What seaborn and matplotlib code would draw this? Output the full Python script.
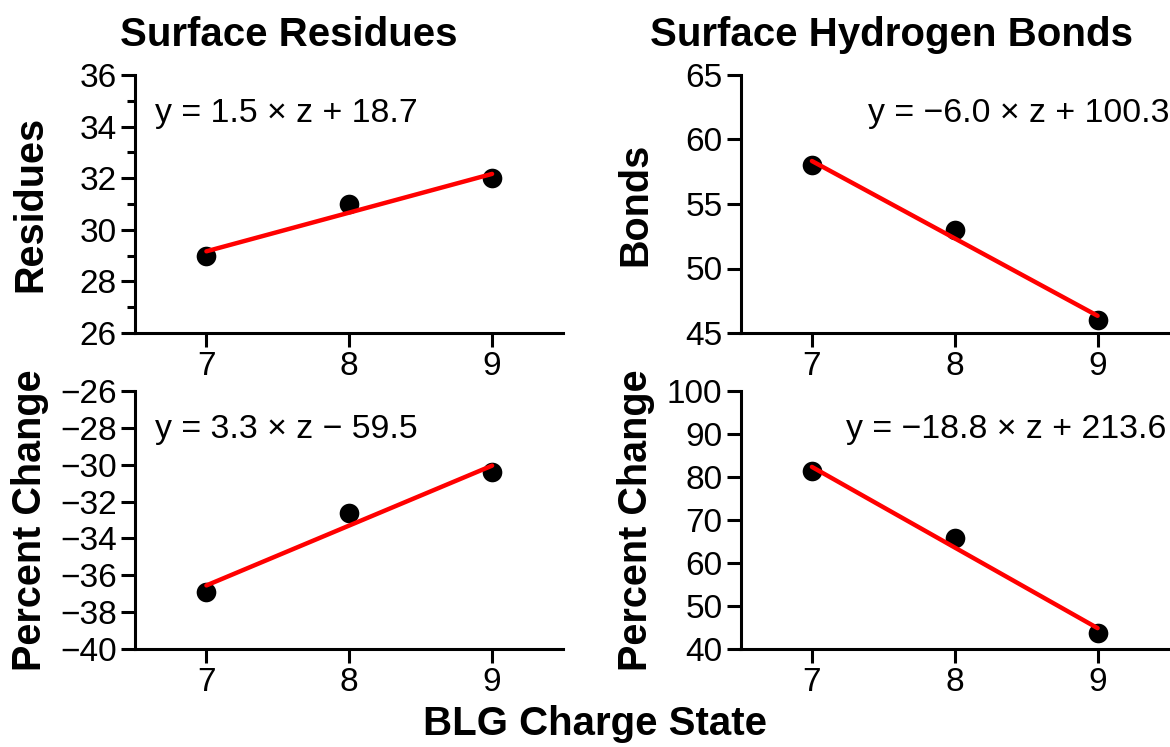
import numpy as np
import pandas as pd
import seaborn as sns
import matplotlib.pyplot as plt
from matplotlib.ticker import MultipleLocator

charge = [7, 8, 9]

residues = [29.0, 31.0, 32.0]
bonds = [58.0, 53.0, 46.0]
residues_pct = [-36.9, -32.6, -30.4]
bonds_pct = [81.3, 65.7, 43.8]

titles = ["Surface Residues", "Surface Hydrogen Bonds"]
ylabels = ["Residues", "Bonds", "Percent Change", "Percent Change"]
equations = [
    "y = 1.5 × z + 18.7",
    "y = −6.0 × z + 100.3",
    "y = 3.3 × z − 59.5",
    "y = −18.8 × z + 213.6",
]
ylims = [(26, 36), (45, 65), (-40, -26), (40, 100)]
ysteps = [2, 5, 2, 10]

sns.set_style("ticks")
plt.rcParams["font.family"] = ["Liberation Sans", "DejaVu Sans"]
plt.rcParams.update({
    "text.color": "black", "axes.labelcolor": "black",
    "axes.edgecolor": "black", "xtick.color": "black", "ytick.color": "black",
})

fig = plt.figure(figsize=(11.7, 7.47), dpi=100)

W, H = 1170, 747
boxes = [(135, 75), (740.5, 75), (135, 391), (740.5, 391)]
ax_w, ax_h = 428.5, 258

series = [residues, bonds, residues_pct, bonds_pct]
eq_pos = [(0.047, 0.818, "left"), (1.0, 0.819, "right"),
          (0.047, 0.817, "left"), (0.995, 0.817, "right")]

for i, (x0, y0) in enumerate(boxes):
    ax = fig.add_axes([x0 / W, 1 - (y0 + ax_h) / H, ax_w / W, ax_h / H])
    df = pd.DataFrame({"z": charge, "y": series[i]})
    sns.regplot(data=df, x="z", y="y", ax=ax, ci=None, truncate=True,
                scatter_kws=dict(s=200, color="black", alpha=1, linewidths=0),
                line_kws=dict(color="#ff0000", lw=3.2))
    ax.set_xlim(6.5, 9.5)
    ax.set_ylim(*ylims[i])
    ax.set_xticks(charge)
    ax.yaxis.set_major_locator(MultipleLocator(ysteps[i]))
    if i == 0:
        ax.yaxis.set_minor_locator(MultipleLocator(1))
    ax.tick_params(which="major", labelsize=24, length=10, width=2.2, pad=3)
    ax.tick_params(which="minor", length=6, width=2.2)
    for s in ["left", "bottom"]:
        ax.spines[s].set_linewidth(2.2)
    sns.despine(ax=ax)
    ax.set_xlabel("")
    ax.set_ylabel(ylabels[i], fontsize=28.5, fontweight="bold")
    ax.yaxis.set_label_coords(-0.20, 0.5)
    ex, ey, ha = eq_pos[i]
    ax.text(ex, ey, equations[i], transform=ax.transAxes, ha=ha,
            va="baseline", fontsize=24.4)

fig.text(289 / W, 1 - 35 / H, titles[0], ha="center", va="center",
         fontsize=29, fontweight="bold")
fig.text(892 / W, 1 - 35 / H, titles[1], ha="center", va="center",
         fontsize=29, fontweight="bold")
fig.text(595 / W, 1 - 724 / H, "BLG Charge State", ha="center", va="center",
         fontsize=29, fontweight="bold")

fig.savefig("out.png", dpi=100)
